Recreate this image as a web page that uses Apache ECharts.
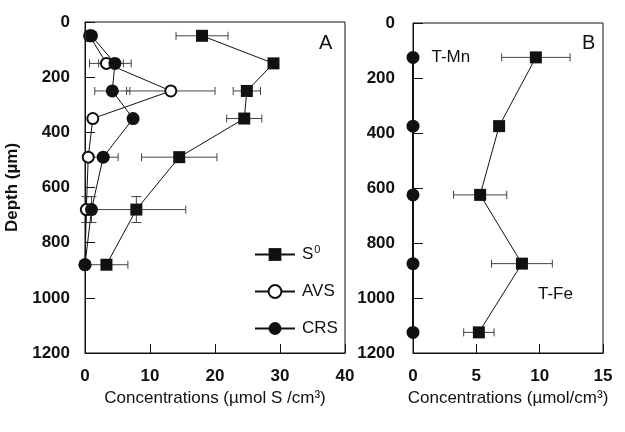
<!DOCTYPE html>
<html><head><meta charset="utf-8">
<script src="https://cdn.jsdelivr.net/npm/echarts@6/dist/echarts.min.js"></script>
<style>html,body{margin:0;padding:0;background:#fff}#c{width:625px;height:432px}</style>
</head><body><div id="c"></div>
<script>
// Panel A data
const depthsA = [50, 150, 250, 350, 490, 680, 880];
const s0Vals = [18, 29, 24.9, 24.5, 14.5, 7.9, 3.3];
const s0XErr = [4, 0, 2.1, 2.7, 5.8, 7.6, 3.3];
const s0YErr = [0, 0, 0, 0, 0, 47, 0];
const avsVals = [0.7, 3.3, 13.2, 1.2, 0.5, 0.2, 0];
const avsXErr = [0, 2.6, 6.8, 0, 0, 0, 0];
const avsYErr = [0, 0, 0, 0, 0, 47, 0];
const crsVals = [1.0, 4.6, 4.2, 7.4, 2.8, 1.0, 0];
const crsXErr = [0, 2.5, 2.7, 0, 2.3, 0, 0];
const crsYErr = [0, 0, 0, 0, 0, 47, 0];
// Panel B data
const depthsB = [125, 375, 625, 875, 1125];
const tFeVals = [9.7, 6.8, 5.3, 8.6, 5.2];
const tFeXErr = [2.7, 0, 2.1, 2.4, 1.2];
const tMnVals = [0, 0, 0, 0, 0];
// Axis ticks
const depthTicks = [0, 200, 400, 600, 800, 1000, 1200];
const concTicksA = [0, 10, 20, 30, 40];
const concTicksB = [0, 5, 10, 15];

const FONT = '"Liberation Sans", Arial, sans-serif';
const pts = (xs, ds) => xs.map((v, i) => [v, ds[i]]);
const errData = (xs, ds, ex, ey) => xs.map((v, i) => [v, ds[i], ex[i], ey[i]]);

function errRender(params, api) {
  const x = api.value(0), y = api.value(1), ex = api.value(2), ey = api.value(3);
  const children = [];
  const st = { stroke: '#444', lineWidth: 1 };
  const cap = 4;
  if (ex > 0) {
    const p1 = api.coord([x - ex, y]), p2 = api.coord([x + ex, y]);
    children.push({ type: 'line', shape: { x1: p1[0], y1: p1[1], x2: p2[0], y2: p2[1] }, style: st });
    children.push({ type: 'line', shape: { x1: p1[0], y1: p1[1] - cap, x2: p1[0], y2: p1[1] + cap }, style: st });
    children.push({ type: 'line', shape: { x1: p2[0], y1: p2[1] - cap, x2: p2[0], y2: p2[1] + cap }, style: st });
  }
  if (ey > 0) {
    const q1 = api.coord([x, y - ey]), q2 = api.coord([x, y + ey]);
    children.push({ type: 'line', shape: { x1: q1[0], y1: q1[1], x2: q2[0], y2: q2[1] }, style: st });
    children.push({ type: 'line', shape: { x1: q1[0] - 5, y1: q1[1], x2: q1[0] + 5, y2: q1[1] }, style: st });
    children.push({ type: 'line', shape: { x1: q2[0] - 5, y1: q2[1], x2: q2[0] + 5, y2: q2[1] }, style: st });
  }
  return { type: 'group', children };
}

function yAx(gi, margin) {
  return {
    gridIndex: gi, type: 'value', inverse: true, min: 0, max: 1200, interval: 200,
    name: gi === 0 ? 'Depth (µm)' : '', nameLocation: 'middle', nameGap: 64,
    nameTextStyle: { fontFamily: FONT, fontSize: 17, fontWeight: 'bold', color: '#111' },
    axisLine: { show: true, onZero: false, lineStyle: { color: '#111', width: 1 } },
    axisTick: { show: true, inside: true, length: 10, lineStyle: { color: '#111' } },
    axisLabel: { margin: margin, fontFamily: FONT, fontSize: 17, fontWeight: 'bold', color: '#111', formatter: v => String(v) },
    splitLine: { show: false }
  };
}
function xAx(gi, max, interval, name) {
  return {
    gridIndex: gi, type: 'value', min: 0, max: max, interval: interval,
    name: name, nameLocation: 'middle', nameGap: 32,
    nameTextStyle: { fontFamily: FONT, fontSize: 17, color: '#111' },
    axisLine: { show: true, onZero: false, lineStyle: { color: '#111', width: 1 } },
    axisTick: { show: true, inside: true, length: 9, lineStyle: { color: '#111' } },
    axisLabel: { margin: 15, fontFamily: FONT, fontSize: 17, fontWeight: 'bold', color: '#111', formatter: v => String(v) },
    splitLine: { show: false }
  };
}

const chart = echarts.init(document.getElementById('c'), null, { renderer: 'canvas' });
chart.setOption({
  animation: false,
  backgroundColor: '#fff',
  grid: [
    { left: 85, top: 22, width: 260, height: 331, show: true, borderColor: '#111', borderWidth: 1, backgroundColor: 'transparent' },
    { left: 413, top: 23, width: 190, height: 330, show: true, borderColor: '#111', borderWidth: 1, backgroundColor: 'transparent' }
  ],
  xAxis: [xAx(0, 40, 10, 'Concentrations (µmol S /cm³)'), xAx(1, 15, 5, 'Concentrations (µmol/cm³)')],
  yAxis: [yAx(0, 15), yAx(1, 18)],
  legend: {
    data: ['S0', 'AVS', 'CRS'], orient: 'vertical', left: 249, top: 239,
    itemWidth: 40, itemHeight: 16, itemGap: 20,
    textStyle: { fontFamily: FONT, fontSize: 17, color: '#111', padding: [0, 0, 0, 2],
      rich: { n: { fontFamily: FONT, fontSize: 17, color: '#111' },
              sup: { fontFamily: FONT, fontSize: 11, color: '#111', verticalAlign: 'top', padding: [0, 0, 10, 1] } } },
    formatter: n => n === 'S0' ? '{n|S}{sup|0}' : n
  },
  graphic: [
    { type: 'text', left: 319, top: 33, style: { text: 'A', font: '20px ' + FONT, fill: '#111' } },
    { type: 'text', left: 582, top: 33, style: { text: 'B', font: '20px ' + FONT, fill: '#111' } },
    { type: 'text', left: 538, top: 286, style: { text: 'T-Fe', font: '17px ' + FONT, fill: '#111' } }
  ],
  series: [
    { type: 'custom', xAxisIndex: 0, yAxisIndex: 0, renderItem: errRender, data: errData(s0Vals, depthsA, s0XErr, s0YErr), z: 1, silent: true },
    { type: 'custom', xAxisIndex: 0, yAxisIndex: 0, renderItem: errRender, data: errData(avsVals, depthsA, avsXErr, avsYErr), z: 1, silent: true },
    { type: 'custom', xAxisIndex: 0, yAxisIndex: 0, renderItem: errRender, data: errData(crsVals, depthsA, crsXErr, crsYErr), z: 1, silent: true },
    { type: 'custom', xAxisIndex: 1, yAxisIndex: 1, renderItem: errRender, data: errData(tFeVals, depthsB, tFeXErr, [0,0,0,0,0]), z: 1, silent: true },
    { name: 'S0', type: 'line', xAxisIndex: 0, yAxisIndex: 0, data: pts(s0Vals, depthsA), symbol: 'rect', symbolSize: 12, clip: false,
      lineStyle: { color: '#111', width: 1 }, itemStyle: { color: '#111' }, z: 3 },
    { name: 'AVS', type: 'line', xAxisIndex: 0, yAxisIndex: 0, data: pts(avsVals, depthsA), symbol: 'emptyCircle', symbolSize: 11, clip: false,
      lineStyle: { color: '#111', width: 1 }, itemStyle: { color: '#111', borderWidth: 2, borderColor: '#111' }, z: 3 },
    { name: 'CRS', type: 'line', xAxisIndex: 0, yAxisIndex: 0, data: pts(crsVals, depthsA), symbol: 'circle', symbolSize: 13, clip: false,
      lineStyle: { color: '#111', width: 1 }, itemStyle: { color: '#111' }, z: 4 },
    { name: 'T-Fe', type: 'line', xAxisIndex: 1, yAxisIndex: 1, data: pts(tFeVals, depthsB), symbol: 'rect', symbolSize: 12, clip: false,
      lineStyle: { color: '#111', width: 1 }, itemStyle: { color: '#111' }, z: 3 },
    { name: 'T-Mn', type: 'line', xAxisIndex: 1, yAxisIndex: 1,
      data: pts(tMnVals, depthsB).map((p, i) => i === 0 ? { value: p, label: { show: true, position: 'right', distance: 12, formatter: 'T-Mn', fontFamily: FONT, fontSize: 17, color: '#111' } } : p),
      symbol: 'circle', symbolSize: 13, clip: false,
      lineStyle: { color: '#111', width: 2 }, itemStyle: { color: '#111' }, z: 4 }
  ]
});
</script></body></html>
